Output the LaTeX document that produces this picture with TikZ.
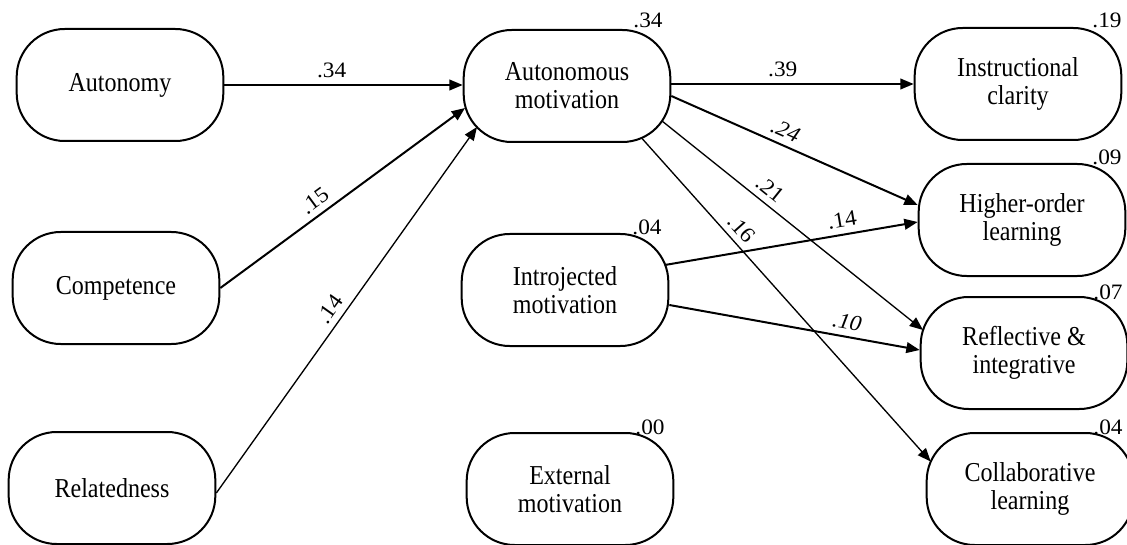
\documentclass[tikz,border=0pt]{standalone}
\usepackage{fontspec}
\setmainfont{Liberation Serif}[FakeStretch=0.88]
\newfontfamily\lblfont{Liberation Serif}[FakeStretch=1.06]
\usetikzlibrary{arrows.meta,calc}
\begin{document}
\begin{tikzpicture}[x=0.75pt,y=-0.75pt,
  box/.style={draw, line width=1.5pt, rounded corners=36pt, minimum width=155pt, minimum height=84pt, align=center, font=\fontsize{20.5}{21}\selectfont, inner sep=0pt},
  rsq/.style={font=\lblfont\fontsize{16.5}{18}\selectfont, inner sep=0pt},
  lbl/.style={font=\lblfont\fontsize{16.5}{18}\selectfont, inner sep=0pt, sloped, above=4.5pt},
  pth/.style={line width=1.5pt, -{Triangle[length=10pt,width=8pt]}},
  lpth/.style={line width=1pt, -{Triangle[length=10pt,width=8pt]}}
]
\useasboundingbox (0,0) rectangle (1127,545);
% nodes
\node[box] (auto)   at (120,85)   {Autonomy};
\node[box] (comp)   at (116,288)  {Competence};
\node[box] (relat)  at (112,488)  {Relatedness};
\node[box] (autmot) at (567,86)   {Autonomous\\motivation};
\node[box] (introj) at (565,290)  {Introjected\\motivation};
\node[box] (ext)    at (570,489)  {External\\motivation};
\node[box] (instr)  at (1018,84)  {Instructional\\clarity};
\node[box] (higher) at (1022,220) {Higher-order\\learning};
\node[box] (refl)   at (1024,353) {Reflective \&\\integrative};
\node[box] (collab) at (1030,489) {Collaborative\\learning};
% R-squared labels
\node[rsq] (r2a)  at (648,20)   {.34};
\node[rsq] (r2i)  at (1107,20)  {.19};
\node[rsq] (r2h)  at (1107,157) {.09};
\node[rsq] (r2in) at (647,227)  {.04};
\node[rsq] (r2r)  at (1108,292) {.07};
\node[rsq] (r2e)  at (650,427)  {.00};
\node[rsq] (r2c)  at (1108,427) {.04};
% paths
\draw[pth] (auto.east) -- node[lbl,pos=0.45]{.34} (auto.east -| autmot.west);
\draw[pth] (comp.east) -- node[lbl,pos=0.42]{.15} ($(autmot)+(-102,22)$);
\draw[lpth] ($(relat.east)+(0,5)$) -- node[lbl,pos=0.48]{.14} ($(autmot)+(-90,41)$);
\draw[pth] (autmot.east |- instr.west) -- node[lbl,pos=0.46]{.39} (instr.west);
\draw[pth] ($(autmot.east)+(0,10)$) -- node[lbl,pos=0.44]{\itshape .24} ($(higher.west)+(0,-15)$);
\draw[lpth] ($(autmot)+(95,35)$) -- node[lbl,pos=0.38]{.21} ($(refl)+(-101,-23)$);
\draw[lpth] ($(autmot)+(74.6,52)$) -- node[lbl,pos=0.31]{.16} ($(collab)+(-99.3,-27.5)$);
\draw[pth] ($(introj)+(100.4,-25.1)$) -- node[lbl,pos=0.71]{.14} ($(higher.west)+(0,2)$);
\draw[pth] ($(introj.east)+(0,15)$) -- node[lbl,pos=0.70]{\itshape .10} ($(refl.west)+(0,-3)$);
\end{tikzpicture}
\end{document}
